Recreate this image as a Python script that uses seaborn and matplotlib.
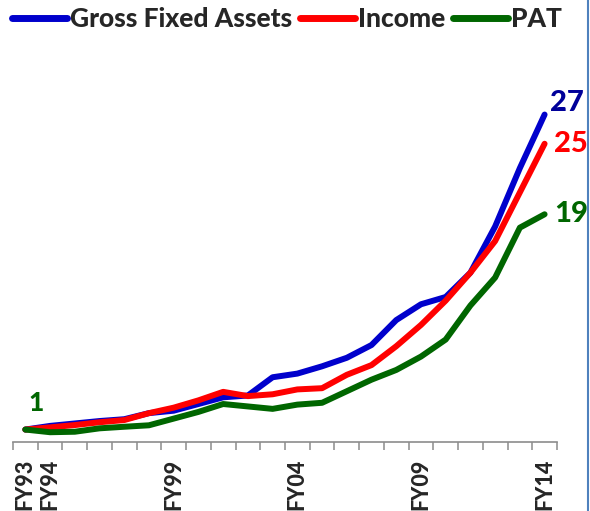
import matplotlib
matplotlib.use("Agg")
import matplotlib.pyplot as plt
from matplotlib.lines import Line2D
import seaborn as sns
import pandas as pd

# data (indexed, FY93 = 1)
years = ["FY93", "FY94", "FY95", "FY96", "FY97", "FY98", "FY99", "FY00", "FY01", "FY02", "FY03",
         "FY04", "FY05", "FY06", "FY07", "FY08", "FY09", "FY10", "FY11", "FY12", "FY13", "FY14"]
gross_fixed_assets = [1.0, 1.3, 1.5, 1.7, 1.85, 2.35, 2.55, 3.1, 3.65, 3.8, 5.3,
                      5.6, 6.2, 6.9, 7.95, 10.0, 11.3, 11.9, 13.9, 17.7, 22.5, 26.9]
income = [1.0, 1.18, 1.37, 1.6, 1.78, 2.35, 2.8, 3.4, 4.1, 3.75, 3.9,
          4.3, 4.4, 5.5, 6.3, 7.85, 9.6, 11.6, 13.9, 16.5, 20.5, 24.5]
pat = [1.0, 0.78, 0.82, 1.1, 1.23, 1.35, 1.9, 2.45, 3.1, 2.9, 2.7,
       3.05, 3.2, 4.15, 5.1, 5.9, 7.0, 8.4, 11.2, 13.5, 17.6, 18.7]
shown_labels = ["FY93", "FY94", "FY99", "FY04", "FY09", "FY14"]

series = {"Gross Fixed Assets": gross_fixed_assets, "Income": income, "PAT": pat}
colors = {"Gross Fixed Assets": "#0000CC", "Income": "#FF0000", "PAT": "#006600"}

df = pd.concat(
    [pd.DataFrame({"idx": range(len(years)), "year": years, "value": v, "series": k})
     for k, v in series.items()],
    ignore_index=True,
)

sns.set_style("white")
plt.rcParams["font.family"] = ["Lato", "DejaVu Sans"]
W = "black"

fig = plt.figure(figsize=(5.9, 5.11), dpi=100)
ax = fig.add_axes([0.022, 0.1356, 0.922, 0.714])

sns.lineplot(data=df, x="idx", y="value", hue="series", palette=colors,
             linewidth=4.3, solid_capstyle="round", ax=ax)

ax.set_xlim(-0.5, len(years) - 0.5)
ax.set_ylim(0, 30)
ax.set_xlabel("")
ax.set_ylabel("")
for s in ["top", "left", "right"]:
    ax.spines[s].set_visible(False)
ax.spines["bottom"].set_color("#8c8c8c")
ax.spines["bottom"].set_linewidth(1.2)
ax.set_yticks([])

# boundary ticks (category axis) + labels at category centres
ax.set_xticks([i - 0.5 for i in range(len(years) + 1)])
ax.set_xticklabels([])
ax.tick_params(axis="x", which="major", direction="out", length=6,
               width=1.1, color="#8c8c8c", bottom=True)
ax.set_xticks([years.index(y) for y in shown_labels], minor=True)
ax.set_xticklabels(shown_labels, minor=True, rotation=90, fontsize=15.5,
                   fontweight=W, va="top", ha="center")
ax.tick_params(axis="x", which="minor", length=0, pad=12)

# end labels
last = len(years) - 1
end_kw = dict(textcoords="offset points", fontsize=21, fontweight=W,
              va="center", ha="left", annotation_clip=False)
ax.annotate("27", (last, gross_fixed_assets[-1]), xytext=(4, 8), color="#000099", **end_kw)
ax.annotate("25", (last, income[-1]), xytext=(7, 0), color="#FF0000", **end_kw)
ax.annotate("19", (last, pat[-1]), xytext=(7, 0), color="#006600", **end_kw)
ax.annotate("1", (0, pat[0]), xytext=(8, 19), textcoords="offset points",
            color="#006600", fontsize=19, fontweight=W, va="center", ha="center",
            annotation_clip=False)

# legend on top
handles, labels = ax.get_legend_handles_labels()
ax.get_legend().remove()
for h in handles:
    h.set_linewidth(5)
fig.legend(handles, labels, loc="center", bbox_to_anchor=(0.486, 0.963), ncol=3,
           frameon=False, handlelength=2.1, handletextpad=0.1,
           columnspacing=0.3, prop={"weight": W, "size": 19})

# thin border at right edge
fig.add_artist(Line2D([0.996, 0.996], [0, 1], transform=fig.transFigure,
                      color="#4F81BD", linewidth=1.5))

fig.savefig("out.png", dpi=100)
plt.close(fig)
